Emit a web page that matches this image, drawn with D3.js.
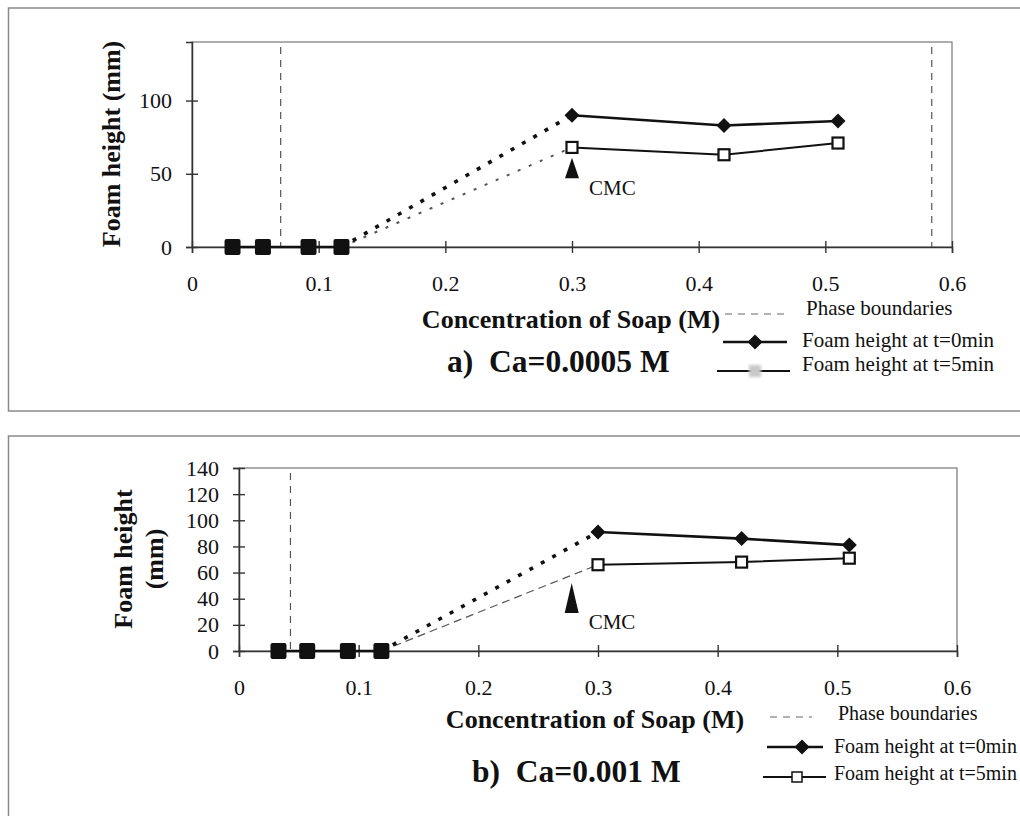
<!DOCTYPE html>
<html><head><meta charset="utf-8">
<script src="https://cdn.jsdelivr.net/npm/d3@7"></script>
<style>
body{margin:0;background:#fff}
svg{display:block}
text{font-family:"Liberation Serif","Times New Roman",serif;fill:#111}
</style>
</head><body>
<svg id="c" width="1020" height="816"></svg>
<script>
// ---------- data ----------
const xTickValues = [0, 0.1, 0.2, 0.3, 0.4, 0.5, 0.6];
const xTickLabels = ["0", "0.1", "0.2", "0.3", "0.4", "0.5", "0.6"];

// panel a) Ca = 0.0005 M
const yTicksA = [0, 50, 100];
const preCmcConcA = [0.032, 0.056, 0.092, 0.118];
const preCmcHeightA = [0, 0, 0, 0];
const concA = [0.3, 0.42, 0.51];
const foamT0A = [90, 83, 86];
const foamT5A = [68, 63, 71];
const phaseA = [0.07, 0.584];
const cmcA = 0.3;

// panel b) Ca = 0.001 M
const yTicksB = [0, 20, 40, 60, 80, 100, 120, 140];
const preCmcConcB = [0.033, 0.057, 0.091, 0.119];
const preCmcHeightB = [0, 0, 0, 0];
const concB = [0.3, 0.42, 0.51];
const foamT0B = [91, 86, 81];
const foamT5B = [66, 68, 71];
const phaseB = [0.043];
const cmcB = 0.278;

const legendLabels = ["Phase boundaries", "Foam height at t=0min", "Foam height at t=5min"];

// ---------- drawing ----------
const svg = d3.select("#c");
const defs = svg.append("defs");
defs.append("filter").attr("id", "blur").append("feGaussianBlur").attr("stdDeviation", 1.5);

function diamond(cx, cy, r) {
  return `M${cx},${cy - r}L${cx + r},${cy}L${cx},${cy + r}L${cx - r},${cy}Z`;
}

function panel(o) {
  const g = svg.append("g");
  const x = d3.scaleLinear().domain([0, 0.6]).range([o.box.x0, o.box.x1]);
  const y = d3.scaleLinear().domain([0, 140]).range([o.box.y1, o.box.y0]);

  // outer frame
  g.append("path").attr("d", o.frame).attr("fill", "none").attr("stroke", "#8a8a8a").attr("stroke-width", 1.5);

  // plot box
  g.append("rect").attr("x", o.box.x0).attr("y", o.box.y0)
    .attr("width", o.box.x1 - o.box.x0).attr("height", o.box.y1 - o.box.y0)
    .attr("fill", "none").attr("stroke", "#777").attr("stroke-width", 1.2);

  // x axis
  const xa = g.append("g").attr("transform", `translate(0,${o.box.y1})`)
    .call(d3.axisBottom(x).tickValues(xTickValues).tickFormat((d, i) => xTickLabels[i]).tickSize(6));
  xa.select(".domain").attr("stroke", "#333").attr("stroke-width", 1.5);
  xa.selectAll(".tick line").attr("y1", -6).attr("y2", 6).attr("stroke", "#333").attr("stroke-width", 1.4);
  xa.selectAll(".tick text").attr("y", 44).attr("dy", null).attr("font-size", 22)
    .attr("font-family", "Liberation Serif").attr("fill", "#111");

  // y axis
  const ya = g.append("g").attr("transform", `translate(${o.box.x0},0)`)
    .call(d3.axisLeft(y).tickValues(o.yTicks).tickSize(6));
  ya.select(".domain").attr("stroke", "#333").attr("stroke-width", 1.5);
  ya.selectAll(".tick line").attr("x1", -6).attr("x2", 6).attr("stroke", "#333").attr("stroke-width", 1.4);
  ya.selectAll(".tick text").attr("x", -20).attr("font-size", 22)
    .attr("font-family", "Liberation Serif").attr("fill", "#111");

  // phase boundaries
  g.selectAll(".phase").data(o.phase).enter().append("line")
    .attr("x1", d => x(d)).attr("x2", d => x(d))
    .attr("y1", o.box.y0 + 5).attr("y2", o.box.y1)
    .attr("stroke", "#555").attr("stroke-width", 1.2).attr("stroke-dasharray", "7,6");

  const line = d3.line().x(d => x(d[0])).y(d => y(d[1]));
  const pre = o.preConc.map((c, i) => [c, o.preH[i]]);
  const last = pre[pre.length - 1];
  const p0 = o.conc.map((c, i) => [c, o.t0[i]]);
  const p5 = o.conc.map((c, i) => [c, o.t5[i]]);

  // transitions (dotted)
  g.append("path").attr("d", line([last, p5[0]])).attr("fill", "none")
    .attr("stroke", o.t5Trans.color).attr("stroke-width", o.t5Trans.width).attr("stroke-dasharray", o.t5Trans.dash);
  g.append("path").attr("d", line([last, p0[0]])).attr("fill", "none")
    .attr("stroke", "#111").attr("stroke-width", 3.6).attr("stroke-dasharray", "4,9");

  // solid lines
  g.append("path").attr("d", line(pre)).attr("fill", "none").attr("stroke", "#111").attr("stroke-width", 2.6);
  g.append("path").attr("d", line(p0)).attr("fill", "none").attr("stroke", "#111").attr("stroke-width", 2.6);
  g.append("path").attr("d", line(p5)).attr("fill", "none").attr("stroke", "#111").attr("stroke-width", 2);

  // markers
  g.selectAll(".pre").data(pre).enter().append("rect")
    .attr("x", d => x(d[0]) - 8).attr("y", d => y(d[1]) - 8)
    .attr("width", 16).attr("height", 16).attr("rx", 2).attr("fill", "#111");
  g.selectAll(".t0").data(p0).enter().append("path")
    .attr("d", d => diamond(x(d[0]), y(d[1]), 7.5)).attr("fill", "#111");
  g.selectAll(".t5").data(p5).enter().append("rect")
    .attr("x", d => x(d[0]) - 5.5).attr("y", d => y(d[1]) - 5.5)
    .attr("width", 11).attr("height", 11).attr("fill", "#fff").attr("stroke", "#111").attr("stroke-width", 2.2);

  // CMC arrow
  const ax = x(o.cmc.x), tip = y(o.cmc.tip), base = y(o.cmc.base);
  g.append("path").attr("d", `M${ax},${tip}L${ax + 7},${base}L${ax - 7},${base}Z`).attr("fill", "#111");
  g.append("text").attr("x", ax + 17).attr("y", base + o.cmc.dy).attr("font-size", 21).text("CMC");

  // axis titles
  g.append("text").attr("x", o.xTitle.x).attr("y", o.xTitle.y).attr("text-anchor", "middle")
    .attr("font-size", 26).attr("font-weight", "bold").text("Concentration of Soap (M)");
  o.yTitle.lines.forEach((t, i) => {
    g.append("text").attr("transform", `translate(${o.yTitle.xs[i]},${o.yTitle.y}) rotate(-90)`)
      .attr("text-anchor", "middle").attr("font-size", 26).attr("font-weight", "bold").text(t);
  });
  g.append("text").attr("x", o.title.x).attr("y", o.title.y).attr("font-size", 31.5)
    .attr("font-weight", "bold").style("white-space", "pre").text(o.title.text);

  // legend
  const L = o.legend;
  g.append("line").attr("x1", L.dash[0]).attr("x2", L.dash[1]).attr("y1", L.ys[0]).attr("y2", L.ys[0])
    .attr("stroke", "#666").attr("stroke-width", 1.2).attr("stroke-dasharray", "7,6");
  g.append("line").attr("x1", L.l0[0]).attr("x2", L.l0[1]).attr("y1", L.ys[1]).attr("y2", L.ys[1])
    .attr("stroke", "#111").attr("stroke-width", 2.6);
  g.append("path").attr("d", diamond(L.m0, L.ys[1], 7.5)).attr("fill", "#111");
  g.append("line").attr("x1", L.l5[0]).attr("x2", L.l5[1]).attr("y1", L.ys[2]).attr("y2", L.ys[2])
    .attr("stroke", "#111").attr("stroke-width", 2.2);
  if (L.faint) {
    g.append("rect").attr("x", L.m5 - 6).attr("y", L.ys[2] - 6).attr("width", 12).attr("height", 12)
      .attr("fill", "#c8c8c8").attr("filter", "url(#blur)");
  } else {
    g.append("rect").attr("x", L.m5 - 5).attr("y", L.ys[2] - 5).attr("width", 10).attr("height", 10)
      .attr("fill", "#fff").attr("stroke", "#111").attr("stroke-width", 1.5);
  }
  legendLabels.forEach((t, i) => {
    g.append("text").attr("x", L.tx[i]).attr("y", L.ty[i]).attr("font-size", L.fs).text(t);
  });
}

panel({
  box: {x0: 192, x1: 952, y0: 42, y1: 247},
  frame: "M1030,8H8.5V411H1030",
  yTicks: yTicksA, preConc: preCmcConcA, preH: preCmcHeightA,
  conc: concA, t0: foamT0A, t5: foamT5A, phase: phaseA,
  t5Trans: {color: "#555", width: 2, dash: "3,9"},
  cmc: {x: cmcA, tip: 61, base: 47, dy: 17},
  xTitle: {x: 571, y: 328},
  yTitle: {lines: ["Foam height (mm)"], xs: [120], y: 144},
  title: {x: 447, y: 372, text: "a)  Ca=0.0005 M"},
  legend: {dash: [725, 785], l0: [723, 787], m0: 755, l5: [717, 790], m5: 755, faint: true, fs: 21,
           ys: [314, 342, 371], tx: [806, 802, 802], ty: [315, 347, 371]}
});

panel({
  box: {x0: 239, x1: 957, y0: 468, y1: 651},
  frame: "M1030,436H8.5V820",
  yTicks: yTicksB, preConc: preCmcConcB, preH: preCmcHeightB,
  conc: concB, t0: foamT0B, t5: foamT5B, phase: phaseB,
  t5Trans: {color: "#555", width: 1.2, dash: "8,5"},
  cmc: {x: cmcB, tip: 52, base: 29, dy: 16},
  xTitle: {x: 595, y: 728},
  yTitle: {lines: ["Foam height", "(mm)"], xs: [132, 163], y: 559},
  title: {x: 472, y: 782, text: "b)  Ca=0.001 M"},
  legend: {dash: [770, 812], l0: [767, 823], m0: 802, l5: [763, 826], m5: 797, faint: false, fs: 20,
           ys: [717, 747, 777], tx: [838, 834, 834], ty: [720, 753, 780]}
});
</script>
</body></html>
